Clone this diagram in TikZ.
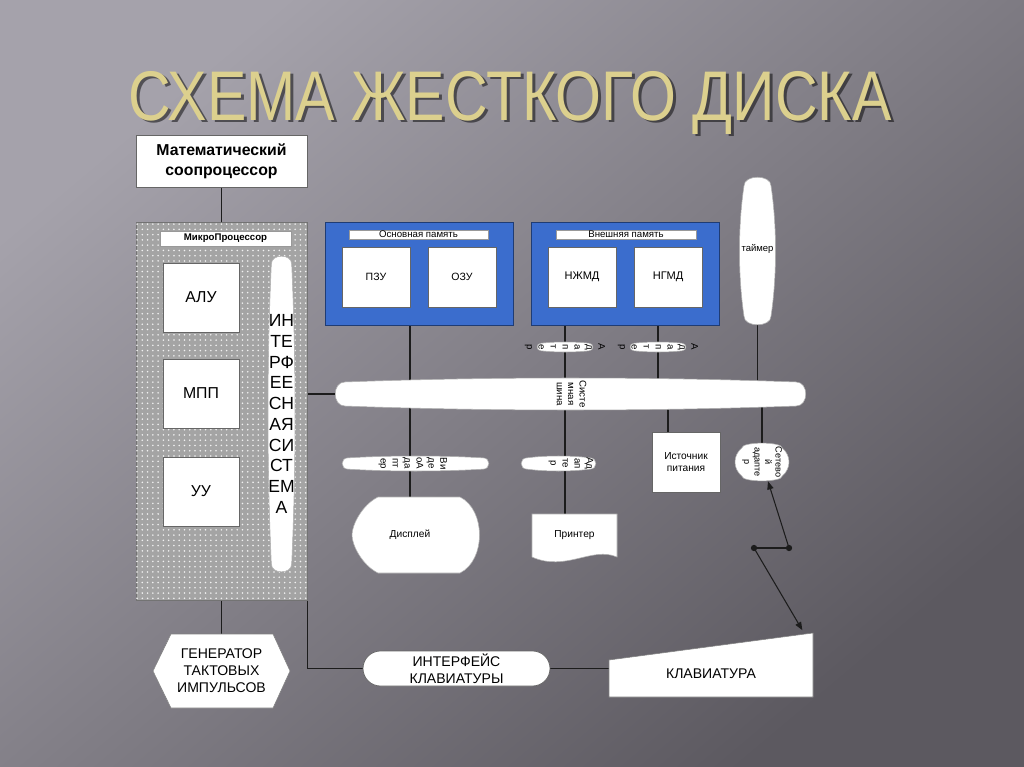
\documentclass[tikz,border=0pt]{standalone}
\usepackage{fontspec}
\setmainfont{Liberation Sans}
\usepackage{graphicx}
\usetikzlibrary{arrows.meta, positioning, calc, patterns}
\definecolor{bgdark}{HTML}{5C5960}
\definecolor{bgmid}{HTML}{716E76}
\definecolor{bglight}{HTML}{A5A2AB}
\definecolor{titlegold}{HTML}{DCD08E}
\definecolor{memblue}{HTML}{3B6DCD}
\definecolor{memedge}{HTML}{1F3C74}
\definecolor{mpgray}{HTML}{A4A4A4}
\definecolor{wirecol}{HTML}{1C1C1C}
\pgfdeclarelayer{bg}
\pgfdeclarelayer{wires}
\pgfsetlayers{bg,wires,main}

% text turned a quarter clockwise, lines stacked right to left
\newcommand{\vtext}[1]{\rotatebox{-90}{\begin{tabular}{@{}c@{}}#1\end{tabular}}}
% white barrels: centre x, centre y, half width, half height, cap
\newcommand{\vbarrel}[5]{%
  \path[barrel] ({#1-0.75*#3},{#2-#4+#5})
    .. controls ({#1-0.75*#3},{#2-#4-0.3*#5}) and ({#1+0.75*#3},{#2-#4-0.3*#5}) .. ({#1+0.75*#3},{#2-#4+#5})
    .. controls ({#1+1.083*#3},{#2-#4/3}) and ({#1+1.083*#3},{#2+#4/3}) .. ({#1+0.75*#3},{#2+#4-#5})
    .. controls ({#1+0.75*#3},{#2+#4+0.3*#5}) and ({#1-0.75*#3},{#2+#4+0.3*#5}) .. ({#1-0.75*#3},{#2+#4-#5})
    .. controls ({#1-1.083*#3},{#2+#4/3}) and ({#1-1.083*#3},{#2-#4/3}) .. cycle;}
\newcommand{\hbarrel}[5]{%
  \path[barrel] ({#1-#3+#5},{#2-0.75*#4})
    .. controls ({#1-#3/3},{#2-1.083*#4}) and ({#1+#3/3},{#2-1.083*#4}) .. ({#1+#3-#5},{#2-0.75*#4})
    .. controls ({#1+#3+0.3*#5},{#2-0.75*#4}) and ({#1+#3+0.3*#5},{#2+0.75*#4}) .. ({#1+#3-#5},{#2+0.75*#4})
    .. controls ({#1+#3/3},{#2+1.083*#4}) and ({#1-#3/3},{#2+1.083*#4}) .. ({#1-#3+#5},{#2+0.75*#4})
    .. controls ({#1-#3-0.3*#5},{#2+0.75*#4}) and ({#1-#3-0.3*#5},{#2-0.75*#4}) .. cycle;}

\begin{document}
\begin{tikzpicture}[x=0.02cm, y=-0.02cm,
  wbox/.style={draw=black!60, line width=0.4pt, fill=white, align=center, inner sep=1pt},
  membox/.style={draw=memedge, line width=0.5pt, fill=memblue},
  tag/.style={draw=black!40, line width=0.3pt, fill=white, inner sep=0pt,
              font=\fontsize{5.5}{6}\selectfont},
  txt/.style={inner sep=0pt, align=center},
  barrel/.style={fill=white, draw=black!30, line width=0.3pt},
  wire/.style={draw=wirecol, line width=0.6pt},
  arr/.style={wire, -{Triangle[length=4.6pt, width=3.6pt]}}]

\useasboundingbox (0,0) rectangle (1024,767);
\begin{pgfonlayer}{bg}
  \shade[top color=bglight, middle color=bgmid, bottom color=bgdark, shading angle=40] (0,0) rectangle (1024,767);
\end{pgfonlayer}

% title
\node[txt, text=black, opacity=0.5, anchor=base, font=\fontsize{40}{40}\selectfont] (titleshadow)
  at (513,123) {\scalebox{0.84}[1]{СХЕМА ЖЕСТКОГО ДИСКА}};
\node[txt, text=titlegold, anchor=base, font=\fontsize{40}{40}\selectfont] (title)
  at (510,120) {\scalebox{0.84}[1]{СХЕМА ЖЕСТКОГО ДИСКА}};

% processor side
\node[wbox, minimum width=3.42cm, minimum height=1.04cm, font=\bfseries\fontsize{9}{11.4}\selectfont]
  (copro) at (221.5,161) {Математический\\соопроцессор};
\node[draw=black!55, line width=0.5pt, fill=mpgray,
      postaction={pattern=dots, pattern color=white!85!mpgray},
      minimum width=3.42cm, minimum height=7.56cm] (mp) at (221.5,411) {};
\node[tag, minimum width=2.62cm, minimum height=0.30cm, font=\bfseries\fontsize{5.5}{6}\selectfont]
  (mptitle) at (225.5,238.5) {МикроПроцессор};
\node[wbox, minimum width=1.52cm, minimum height=1.38cm, font=\fontsize{9}{10}\selectfont] (alu) at (201,297.5) {АЛУ};
\node[wbox, minimum width=1.52cm, minimum height=1.38cm, font=\fontsize{9}{10}\selectfont] (mpp) at (201,393.5) {МПП};
\node[wbox, minimum width=1.52cm, minimum height=1.38cm, font=\fontsize{9}{10}\selectfont] (uu) at (201,491.5) {УУ};
\vbarrel{281.5}{414}{13.5}{158}{8}
\node[txt, minimum width=0.54cm, minimum height=6.32cm, font=\fontsize{10}{11.8}\selectfont]
  (isys) at (281.5,414) {ИН\\ТЕ\\РФ\\ЕЕ\\СН\\АЯ\\СИ\\СТ\\ЕМ\\А};

% memory
\node[membox, minimum width=3.76cm, minimum height=2.06cm] (mainmem) at (419,273.5) {};
\node[tag, minimum width=2.78cm, minimum height=0.18cm] (mainlbl) at (418.5,234.5) {Основная память};
\node[wbox, minimum width=1.36cm, minimum height=1.2cm, font=\fontsize{6}{7}\selectfont] (pzu) at (376,277) {ПЗУ};
\node[wbox, minimum width=1.36cm, minimum height=1.2cm, font=\fontsize{6}{7}\selectfont] (ozu) at (462,277) {ОЗУ};
\node[membox, minimum width=3.76cm, minimum height=2.06cm] (extmem) at (625,273.5) {};
\node[tag, minimum width=2.8cm, minimum height=0.18cm] (extlbl) at (626,234.5) {Внешняя память};
\node[wbox, minimum width=1.36cm, minimum height=1.2cm, font=\fontsize{6.3}{7}\selectfont] (nzhmd) at (582,277) {НЖМД};
\node[wbox, minimum width=1.36cm, minimum height=1.2cm, font=\fontsize{6.3}{7}\selectfont] (ngmd) at (668,277) {НГМД};

\vbarrel{757.5}{251}{18}{74}{9}
\node[txt, minimum width=0.7cm, minimum height=2.96cm, font=\fontsize{5.4}{7}\selectfont] (timer) at (757.5,249) {таймер};

% adapters and bus
\hbarrel{565}{347}{28}{5}{4}
\node[txt, minimum width=1.12cm, minimum height=0.2cm, font=\fontsize{5.5}{6.8}\selectfont]
  (adA) at (565,347) {\vtext{А\\д\\а\\п\\т\\е\\р}};
\hbarrel{658}{347}{28}{5}{4}
\node[txt, minimum width=1.12cm, minimum height=0.2cm, font=\fontsize{5.5}{6.8}\selectfont]
  (adB) at (658,347) {\vtext{А\\д\\а\\п\\т\\е\\р}};
\hbarrel{570.5}{394}{235.5}{16}{10}
\node[txt, minimum width=9.42cm, minimum height=0.64cm, font=\fontsize{5.5}{6.5}\selectfont]
  (bus) at (570.5,394) {\vtext{Систе\\мная\\шина}};
\hbarrel{415.5}{463.5}{73.5}{7.5}{6}
\node[txt, minimum height=0.3cm, font=\fontsize{5.5}{6.8}\selectfont]
  (vidad) at (413,463.5) {\vtext{Ви\\де\\оА\\да\\пт\\ер}};
\hbarrel{558.5}{463.5}{37.5}{7.5}{6}
\node[txt, minimum height=0.3cm, font=\fontsize{5.5}{6.8}\selectfont]
  (prnad) at (571,463.5) {\vtext{Ад\\ап\\те\\р}};

% devices
\path[barrel] (378,497) -- (460,497) .. controls (486,510) and (486,560) .. (460,573) -- (378,573)
  .. controls (362,565) and (352,545) .. (352,535) .. controls (352,525) and (362,505) .. cycle;
\node[txt, minimum width=2.54cm, minimum height=1.52cm, font=\fontsize{5.8}{7}\selectfont] (disp) at (410,535) {Дисплей};
\path[barrel] (532,514) -- (617,514) -- (617,557) .. controls (592,546) and (566,572) .. (532,557) -- cycle;
\node[txt, minimum width=1.7cm, minimum height=0.86cm, font=\fontsize{5.8}{7}\selectfont] (prn) at (574.5,535.5) {Принтер};
\node[wbox, minimum width=1.36cm, minimum height=1.2cm, font=\fontsize{5.8}{6.8}\selectfont] (power) at (686,462) {Источник\\питания};
\vbarrel{762}{462}{27}{19}{5}
\node[txt, minimum width=1.0cm, minimum height=0.76cm, font=\fontsize{5.2}{6}\selectfont]
  (netad) at (762,462) {\vtext{Сетево\\й\\адапте\\р}};

% bottom row
\path[barrel, draw=black!50] (153,671) -- (171,634) -- (273,634) -- (290,671) -- (273,708) -- (171,708) -- cycle;
\node[txt, minimum width=2.74cm, minimum height=1.48cm, font=\fontsize{8}{9.7}\selectfont]
  (gen) at (221.5,671) {ГЕНЕРАТОР\\ТАКТОВЫХ\\ИМПУЛЬСОВ};
\node[wbox, rounded corners=0.35cm, minimum width=3.74cm, minimum height=0.7cm, font=\fontsize{8}{9.6}\selectfont]
  (kbi) at (456.5,668.5) {ИНТЕРФЕЙС\\КЛАВИАТУРЫ};
\path[barrel, draw=black!50] (609,660) -- (813,633) -- (813,697) -- (609,697) -- cycle;
\node[txt, minimum width=4.08cm, minimum height=1.1cm, font=\fontsize{8}{9}\selectfont] (kb) at (711,674) {КЛАВИАТУРА};

\coordinate (jl) at (754,548);
\coordinate (jr) at (789,548);
\coordinate (pwin) at ($(power.north)+(-18,0)$);

\begin{pgfonlayer}{wires}
  \draw[wire] (copro.south) -- (mp.north);
  \draw[wire] (mp.south) -- (gen.north);
  \draw[wire] (bus.west -| mp.east) -- (bus.west);
  \draw[wire] (mp.south east) |- (kbi.west);
  \draw[wire] (kbi.east) -- (kbi.east -| kb.west);
  \draw[wire] (mainmem.south -| disp.north) -- (disp.north);
  \draw[wire] (extmem.south -| adA) -- (prn.north -| adA);
  \draw[wire] (extmem.south -| adB) -- (adB |- bus.center);
  \draw[wire] (timer.south) -- (timer.south |- bus.center);
  \draw[wire] (pwin |- bus.center) -- (pwin);
  \draw[wire] (netad.north |- bus.center) -- (netad.north);
  \draw[wire] (jl) -- (jr);
  \draw[arr] (jr) -- ([xshift=0.12cm]netad.south);
  \draw[arr] (jl) -- ([xshift=-0.22cm, yshift=0.32cm]kb.north east);
  \fill[wirecol] (jl) circle (1.8pt) (jr) circle (1.8pt);
\end{pgfonlayer}
\end{tikzpicture}
\end{document}
